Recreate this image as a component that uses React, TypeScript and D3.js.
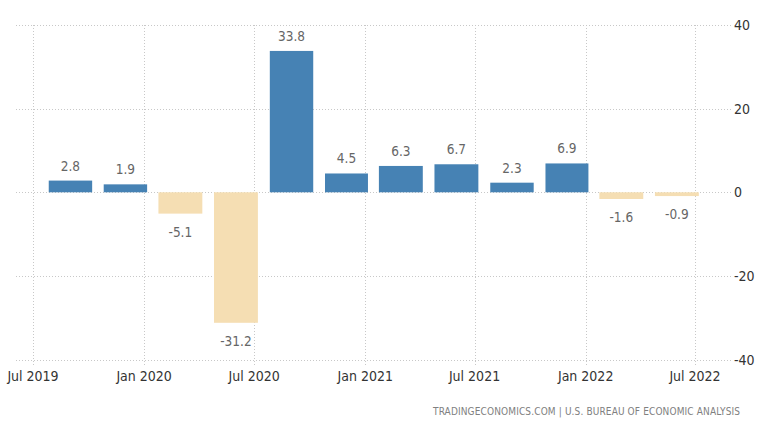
import React from "react";
import * as d3 from "d3";

const quarterMonths: string[] = [
  "2019-09-01", "2019-12-01", "2020-03-01", "2020-06-01",
  "2020-09-01", "2020-12-01", "2021-03-01", "2021-06-01",
  "2021-09-01", "2021-12-01", "2022-03-01", "2022-06-01",
];
const gdpValues: number[] = [2.8, 1.9, -5.1, -31.2, 33.8, 4.5, 6.3, 6.7, 2.3, 6.9, -1.6, -0.9];
const xTickDates: string[] = [
  "2019-07-01", "2020-01-01", "2020-07-01", "2021-01-01",
  "2021-07-01", "2022-01-01", "2022-07-01",
];
const xTickLabels: string[] = ["Jul 2019", "Jan 2020", "Jul 2020", "Jan 2021", "Jul 2021", "Jan 2022", "Jul 2022"];
const yTicks: number[] = [-40, -20, 0, 20, 40];
const sourceText = "TRADINGECONOMICS.COM  |  U.S. BUREAU OF ECONOMIC ANALYSIS";

const W = 768;
const H = 432;
const FONT = "'DejaVu Sans Condensed', 'DejaVu Sans', sans-serif";

export default function App() {
  const parse = (s: string) => new Date(s + "T00:00:00Z");
  const x = d3.scaleUtc().domain([parse("2019-07-01"), parse("2022-07-01")]).range([33, 695]);
  const y = d3.scaleLinear().domain([-40, 40]).range([359.6, 25]);

  const barW = (i: number) => {
    const d = parse(quarterMonths[i]);
    return (x(d3.utcMonth.offset(d, 3)) - x(d)) * 0.79;
  };

  return (
    <svg
      width={W}
      height={H}
      style={{ position: "absolute", left: 0, top: 0, background: "#fff" }}
      fontFamily={FONT}
    >
      {yTicks.map((t) => (
        <line
          key={"h" + t}
          x1={16}
          x2={731}
          y1={Math.round(y(t)) + 0.5}
          y2={Math.round(y(t)) + 0.5}
          stroke="#c8c8c8"
          strokeWidth={1}
          strokeDasharray="1,2"
        />
      ))}
      {xTickDates.map((s) => (
        <line
          key={"v" + s}
          x1={Math.round(x(parse(s))) + 0.5}
          x2={Math.round(x(parse(s))) + 0.5}
          y1={y(40)}
          y2={y(-40) + 6}
          stroke="#c8c8c8"
          strokeWidth={1}
          strokeDasharray="1,2"
        />
      ))}
      {gdpValues.map((v, i) => {
        const cx = x(parse(quarterMonths[i]));
        const w = barW(i);
        const y0 = y(Math.max(0, v));
        const y1 = y(Math.min(0, v));
        return (
          <rect
            key={"b" + i}
            x={cx - w / 2}
            y={y0}
            width={w}
            height={Math.max(1, y1 - y0)}
            fill={v >= 0 ? "#4682b4" : "#f5deb3"}
          />
        );
      })}
      {gdpValues.map((v, i) => {
        const cx = x(parse(quarterMonths[i]));
        const ty = v >= 0 ? y(v) - 10 : y(v) + 23;
        return (
          <text
            key={"l" + i}
            x={cx}
            y={ty}
            textAnchor="middle"
            fontSize={13.5}
            fill="#666"
          >
            {v.toFixed(1)}
          </text>
        );
      })}
      {yTicks.map((t) => (
        <text
          key={"yl" + t}
          x={734}
          y={y(t) + 5}
          fontSize={14}
          fill="#333"
        >
          {String(t)}
        </text>
      ))}
      {xTickDates.map((s, i) => (
        <text
          key={"xl" + s}
          x={x(parse(s))}
          y={381}
          textAnchor="middle"
          fontSize={14}
          fill="#333"
        >
          {xTickLabels[i]}
        </text>
      ))}
      <text
        x={433}
        y={415}
        fontSize={10}
        fill="#808080"
        textLength={307}
        lengthAdjust="spacing"
      >
        {sourceText}
      </text>
    </svg>
  );
}
